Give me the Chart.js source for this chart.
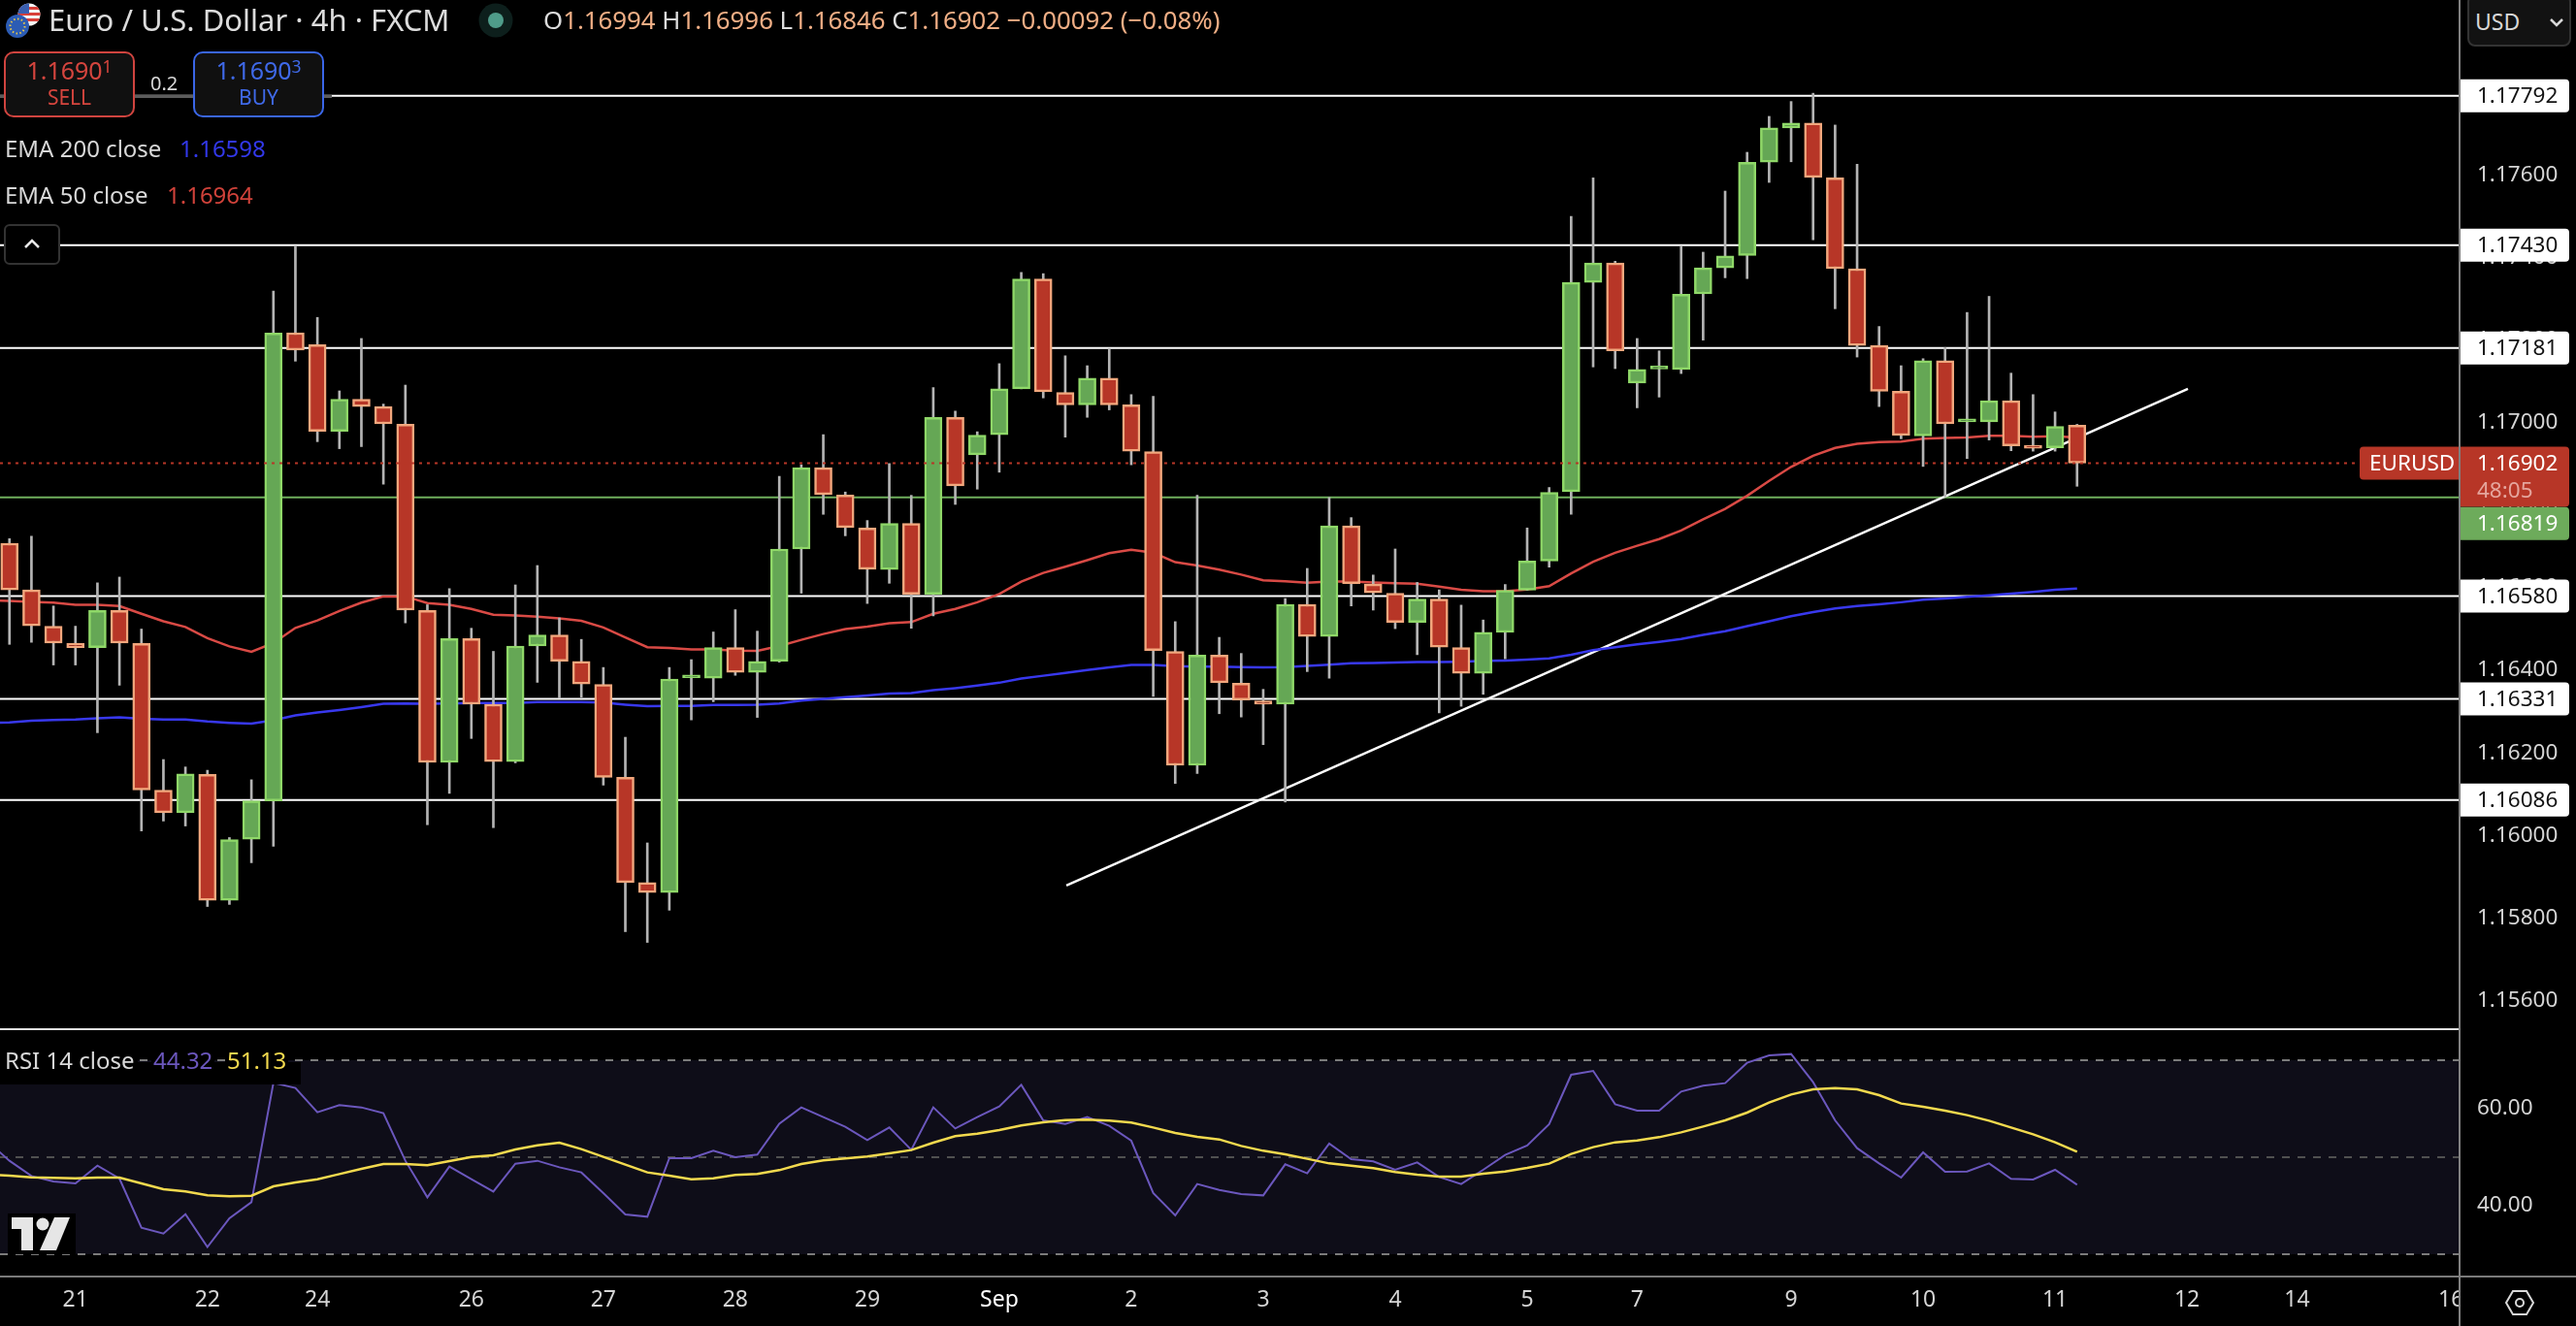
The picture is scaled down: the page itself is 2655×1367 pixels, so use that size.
<!DOCTYPE html>
<html>
<head>
<meta charset="utf-8">
<title>EURUSD 4h</title>
<script src="https://cdn.jsdelivr.net/npm/chart.js@4/dist/chart.umd.min.js"></script>
<style>
    html, body { margin: 0; padding: 0; background: #000; width: 2655px; height: 1367px; overflow: hidden; font-family: "Noto Sans", sans-serif; }
    canvas { position: absolute; left: 0; }
    #graficoPreco { top: 0; }
    #graficoRsi { top: 1061px; }
    .txt { position: absolute; white-space: nowrap; line-height: 1; color: #d8d8d8; }
    .box { position: absolute; box-sizing: border-box; }
    sup { font-size: 70%; line-height: 0; vertical-align: 0.4em; }
    .peach { color: #f0ae85; }
</style>
</head>
<body>
<canvas id="graficoPreco" width="2655" height="1061"></canvas>
<canvas id="graficoRsi" width="2655" height="306"></canvas>

<!-- separadores -->
<div class="box" style="left:0;top:1060px;width:2535px;height:2px;background:#e0e0e0"></div>
<div class="box" style="left:0;top:1315px;width:2655px;height:2px;background:#7a7a7a"></div>
<div class="box" style="left:2536px;top:1317px;width:119px;height:50px;background:#000"></div>
<div class="box" style="left:2534px;top:0;width:2px;height:1367px;background:#808080"></div>

<!-- titulo -->
<svg class="box" style="left:4px;top:2px" width="40" height="40" viewBox="0 0 40 40">
    <clipPath id="us"><circle cx="26" cy="13" r="11.5"/></clipPath>
    <g clip-path="url(#us)">
        <rect x="14" y="1" width="24" height="24" fill="#f4f4f4"/>
        <rect x="14" y="5" width="24" height="3" fill="#d8403a"/>
        <rect x="14" y="11" width="24" height="3" fill="#d8403a"/>
        <rect x="14" y="17" width="24" height="3" fill="#d8403a"/>
        <rect x="14" y="1" width="12" height="11" fill="#3a5fb0"/>
    </g>
    <circle cx="14" cy="25" r="12" fill="#2c5cb4"/>
    <circle cx="14" cy="25" r="7.5" fill="none" stroke="#e8c84a" stroke-width="2" stroke-dasharray="1.5 2.4"/>
</svg>
<div class="txt" style="left:50px;top:5px;font-size:31px;color:#dcdcdc">Euro / U.S. Dollar · 4h · FXCM</div>
<svg class="box" style="left:493px;top:3px" width="36" height="36"><circle cx="18" cy="18" r="17.5" fill="#0d1f1c"/><circle cx="18" cy="18" r="8" fill="#4f9c8a"/></svg>
<div class="txt" style="left:560px;top:8px;font-size:25.8px;color:#dcdcdc">O<span class="peach">1.16994</span> H<span class="peach">1.16996</span> L<span class="peach">1.16846</span> C<span class="peach">1.16902</span> <span class="peach">−0.00092 (−0.08%)</span></div>

<!-- sell / buy -->
<div class="box" style="left:0;top:98px;width:342px;height:3px;background:#5c5c5c"></div>
<div class="box" style="left:4px;top:53px;width:135px;height:68px;background:#101010;border:2px solid #d0443f;border-radius:10px"></div>
<div class="txt" style="left:4px;top:60px;width:135px;text-align:center;font-size:25px;color:#d5453e">1.1690<sup>1</sup></div>
<div class="txt" style="left:4px;top:90px;width:135px;text-align:center;font-size:21px;color:#d5453e">SELL</div>
<div class="txt" style="left:155px;top:76px;font-size:20px;color:#d8d8d8">0.2</div>
<div class="box" style="left:199px;top:53px;width:135px;height:68px;background:#101010;border:2px solid #3a66e8;border-radius:10px"></div>
<div class="txt" style="left:199px;top:60px;width:135px;text-align:center;font-size:25px;color:#3f69e8">1.1690<sup>3</sup></div>
<div class="txt" style="left:199px;top:90px;width:135px;text-align:center;font-size:21px;color:#3f69e8">BUY</div>

<!-- indicadores -->
<div class="txt" style="left:5px;top:141px;font-size:24px">EMA 200 close</div>
<div class="txt" style="left:185px;top:141px;font-size:24px;color:#3238ea">1.16598</div>
<div class="txt" style="left:5px;top:189px;font-size:24px">EMA 50 close</div>
<div class="txt" style="left:172px;top:189px;font-size:24px;color:#d0423a">1.16964</div>
<div class="box" style="left:4px;top:231px;width:58px;height:42px;background:#000;border:2px solid #333;border-radius:6px"></div>
<svg class="box" style="left:24px;top:245px" width="18" height="12"><path d="M2 10 L9 3 L16 10" fill="none" stroke="#e8e8e8" stroke-width="2.5"/></svg>

<!-- moeda -->
<div class="box" style="left:2543px;top:-6px;width:107px;height:54px;background:#121212;border:2px solid #333;border-radius:8px"></div>
<div class="txt" style="left:2551px;top:11px;font-size:23px">USD</div>
<svg class="box" style="left:2627px;top:18px" width="16" height="10"><path d="M2 2 L8 8 L14 2" fill="none" stroke="#d8d8d8" stroke-width="2.5"/></svg>

<!-- rsi -->
<div class="box" style="left:0;top:1095px;width:310px;height:23px;background:#000"></div>
<div class="txt" style="left:0;top:1079px;padding:2px 4px 2px 5px;font-size:24px;background:#000">RSI 14 close</div>
<div class="txt" style="left:156px;top:1079px;padding:2px;font-size:24px;color:#6b57bd;background:#000">44.32</div>
<div class="txt" style="left:232px;top:1079px;padding:2px;font-size:24px;color:#f2d94e;background:#000">51.13</div>

<!-- marca -->
<svg class="box" style="left:8px;top:1251px" width="70" height="42" viewBox="0 0 70 42">
    <rect width="70" height="42" fill="#000"/>
    <path d="M4 4 H26 V38 H14 V16 H4 Z" fill="#e6e6e6"/>
    <circle cx="36" cy="11" r="6.5" fill="#e6e6e6"/>
    <path d="M48 4 H64 L50 38 H33 Z" fill="#e6e6e6"/>
</svg>

<!-- engrenagem -->
<svg class="box" style="left:2581px;top:1329px" width="32" height="28" viewBox="0 0 32 28">
    <path d="M9 2 H23 L30 14 L23 26 H9 L2 14 Z" fill="none" stroke="#d8d8d8" stroke-width="2"/>
    <circle cx="16" cy="14" r="4" fill="none" stroke="#d8d8d8" stroke-width="2"/>
</svg>

<script>
// ==========================================
// DADOS
// ==========================================
const aberturas = [1.16708,1.16595,1.16507,1.16465,1.16455,1.16545,1.16465,1.16110,1.16055,1.16148,1.15843,1.15991,1.16084,1.17218,1.17189,1.16979,1.17057,1.17039,1.16996,1.16545,1.16177,1.16477,1.16318,1.16179,1.16459,1.16486,1.16422,1.16366,1.16141,1.15886,1.15862,1.16382,1.16381,1.16455,1.16395,1.16422,1.16694,1.16891,1.16825,1.16745,1.16644,1.16756,1.16584,1.17013,1.16922,1.16971,1.17082,1.17348,1.17073,1.17043,1.17108,1.17043,1.16930,1.16446,1.16170,1.16437,1.16369,1.16326,1.16318,1.16560,1.16482,1.16750,1.16609,1.16587,1.16516,1.16573,1.16455,1.16393,1.16492,1.16594,1.16665,1.16833,1.17340,1.17387,1.17096,1.17130,1.17129,1.17312,1.17375,1.17405,1.17631,1.17714,1.17726,1.17593,1.17373,1.17187,1.17076,1.16968,1.17150,1.17002,1.17002,1.17053,1.16943,1.16939,1.16994];
const maximas = [1.16719,1.16725,1.16556,1.16507,1.16612,1.16626,1.16500,1.16184,1.16166,1.16158,1.15995,1.16135,1.17319,1.17428,1.17255,1.17077,1.17204,1.17045,1.17091,1.16559,1.16598,1.16502,1.16446,1.16607,1.16654,1.16527,1.16475,1.16407,1.16238,1.15982,1.16407,1.16426,1.16493,1.16547,1.16495,1.16870,1.16898,1.16971,1.16832,1.16763,1.16901,1.16824,1.17085,1.17028,1.16978,1.17143,1.17364,1.17361,1.17162,1.17138,1.17180,1.17068,1.17064,1.16518,1.16824,1.16480,1.16441,1.16354,1.16574,1.16647,1.16819,1.16770,1.16631,1.16694,1.16613,1.16595,1.16558,1.16522,1.16608,1.16745,1.16843,1.17500,1.17593,1.17391,1.17204,1.17174,1.17427,1.17413,1.17561,1.17655,1.17742,1.17778,1.17798,1.17721,1.17626,1.17233,1.17138,1.17155,1.17182,1.17267,1.17306,1.17120,1.17068,1.17026,1.16996];
const minimas = [1.16463,1.16468,1.16413,1.16413,1.16249,1.16364,1.16011,1.16035,1.16023,1.15828,1.15833,1.15934,1.15974,1.17149,1.16954,1.16937,1.16942,1.16851,1.16515,1.16026,1.16102,1.16235,1.16019,1.16176,1.16371,1.16333,1.16335,1.16122,1.15767,1.15741,1.15819,1.16280,1.16324,1.16388,1.16286,1.16420,1.16587,1.16778,1.16726,1.16562,1.16611,1.16502,1.16532,1.16802,1.16839,1.16880,1.17082,1.17060,1.16965,1.17013,1.17031,1.16898,1.16337,1.16126,1.16150,1.16295,1.16287,1.16220,1.16081,1.16397,1.16381,1.16556,1.16546,1.16501,1.16438,1.16297,1.16313,1.16342,1.16428,1.16594,1.16650,1.16778,1.17135,1.17131,1.17036,1.17062,1.17119,1.17200,1.17351,1.17349,1.17582,1.17632,1.17443,1.17276,1.17159,1.17039,1.16961,1.16894,1.16820,1.16913,1.16958,1.16932,1.16931,1.16931,1.16846];
const fechamentos = [1.16595,1.16508,1.16466,1.16455,1.16545,1.16466,1.16110,1.16055,1.16149,1.15843,1.15990,1.16084,1.17217,1.17176,1.16979,1.17057,1.17039,1.16997,1.16546,1.16177,1.16477,1.16318,1.16179,1.16459,1.16486,1.16422,1.16367,1.16141,1.15886,1.15862,1.16379,1.16383,1.16455,1.16395,1.16422,1.16694,1.16891,1.16826,1.16746,1.16645,1.16756,1.16584,1.17013,1.16847,1.16970,1.17082,1.17348,1.17075,1.17043,1.17108,1.17043,1.16931,1.16448,1.16170,1.16437,1.16370,1.16328,1.16318,1.16560,1.16482,1.16750,1.16610,1.16588,1.16516,1.16573,1.16456,1.16393,1.16492,1.16594,1.16665,1.16831,1.17340,1.17387,1.17174,1.17129,1.17131,1.17311,1.17375,1.17404,1.17631,1.17714,1.17726,1.17594,1.17373,1.17187,1.17076,1.16969,1.17150,1.16997,1.17003,1.17053,1.16944,1.16938,1.16991,1.16902];

// as séries abaixo começam um candle antes do primeiro, fora da área visível
const ema50 = [1.16570,1.16568,1.16566,1.16564,1.16559,1.16559,1.16556,1.16537,1.16519,1.16505,1.16478,1.16458,1.16445,1.16466,1.16503,1.16521,1.16544,1.16564,1.16579,1.16579,1.16563,1.16559,1.16549,1.16535,1.16533,1.16530,1.16526,1.16520,1.16504,1.16480,1.16456,1.16454,1.16451,1.16451,1.16448,1.16447,1.16459,1.16474,1.16488,1.16500,1.16506,1.16514,1.16517,1.16537,1.16549,1.16565,1.16585,1.16615,1.16636,1.16651,1.16667,1.16684,1.16692,1.16685,1.16662,1.16654,1.16644,1.16632,1.16618,1.16616,1.16612,1.16615,1.16615,1.16613,1.16611,1.16610,1.16603,1.16595,1.16592,1.16592,1.16596,1.16604,1.16635,1.16663,1.16685,1.16702,1.16718,1.16739,1.16766,1.16791,1.16823,1.16859,1.16893,1.16920,1.16939,1.16949,1.16953,1.16954,1.16961,1.16963,1.16964,1.16968,1.16968,1.16966,1.16967,1.16964];
const ema200 = [1.16272,1.16274,1.16278,1.16280,1.16281,1.16284,1.16286,1.16283,1.16281,1.16281,1.16276,1.16273,1.16271,1.16279,1.16291,1.16298,1.16304,1.16311,1.16319,1.16320,1.16319,1.16320,1.16321,1.16321,1.16321,1.16323,1.16323,1.16323,1.16322,1.16317,1.16313,1.16314,1.16314,1.16316,1.16316,1.16317,1.16320,1.16327,1.16331,1.16335,1.16339,1.16344,1.16345,1.16352,1.16357,1.16363,1.16370,1.16380,1.16387,1.16394,1.16401,1.16407,1.16413,1.16413,1.16410,1.16409,1.16409,1.16408,1.16407,1.16408,1.16411,1.16414,1.16417,1.16418,1.16419,1.16420,1.16420,1.16421,1.16423,1.16424,1.16426,1.16429,1.16438,1.16449,1.16456,1.16463,1.16469,1.16476,1.16486,1.16495,1.16507,1.16519,1.16531,1.16541,1.16550,1.16556,1.16560,1.16565,1.16571,1.16574,1.16578,1.16582,1.16586,1.16590,1.16595,1.16598];

const rsi = [53.30,49.27,46.13,45.00,44.60,48.27,45.60,35.47,34.27,38.27,31.47,37.40,40.73,65.33,64.27,59.27,60.73,60.27,59.07,49.27,41.73,48.07,45.47,42.93,48.67,49.27,47.93,46.87,42.60,38.20,37.73,49.80,49.80,51.33,50.00,50.53,56.93,60.27,58.27,56.27,53.53,56.13,51.53,60.27,55.93,58.27,60.47,64.93,57.60,56.87,58.27,56.47,53.40,42.60,38.00,44.47,43.27,42.40,42.13,48.53,46.67,52.80,49.60,49.13,47.40,48.93,45.93,44.47,47.40,50.47,52.40,56.80,67.00,67.80,60.93,59.60,59.60,63.53,64.73,65.27,69.47,71.00,71.27,65.47,57.60,51.87,48.73,45.80,51.00,47.00,47.07,48.73,45.53,45.40,47.40,44.32];
const rsiMedia = [46.40,46.20,45.87,45.73,45.67,45.80,45.80,44.60,43.40,42.93,42.13,41.93,42.07,44.00,44.80,45.47,46.53,47.60,48.60,48.60,48.33,49.20,50.07,50.40,51.60,52.47,53.00,51.67,50.07,48.47,46.87,46.20,45.47,45.67,46.33,46.53,47.33,48.60,49.33,49.73,50.13,50.80,51.47,53.00,54.33,54.87,55.60,56.53,57.20,57.67,57.73,57.53,57.13,56.13,55.00,54.20,53.67,52.33,51.33,50.60,49.67,48.73,48.27,47.73,46.93,46.40,46.00,46.00,46.60,47.07,47.80,48.67,50.67,52.07,53.07,53.47,54.13,55.13,56.33,57.60,59.20,61.27,62.93,64.00,64.27,64.00,62.80,61.07,60.40,59.60,58.67,57.53,56.13,54.73,53.07,51.13];

const niveisBrancos = [1.17792, 1.17430, 1.17181, 1.16580, 1.16331, 1.16086];
const nivelVerde = 1.16819;
const precoAtual = 1.16902;
const tendenciaX = [48.05, 99.04];
const tendenciaY = [1.15879, 1.17082];

const ticksPreco = [1.17600, 1.17400, 1.17200, 1.17000, 1.16800, 1.16600, 1.16400, 1.16200, 1.16000, 1.15800, 1.15600];
const ticksRsi = [60, 40];
const niveisRsi = [70, 50, 30];
const posicoesTempo = [3, 9, 14, 21, 27, 33, 39, 45, 51, 57, 63, 69, 74, 81, 87, 93, 99, 104, 111];
const rotulosTempo = ["21", "22", "24", "26", "27", "28", "29", "Sep", "2", "3", "4", "5", "7", "9", "10", "11", "12", "14", "16"];

// ==========================================
// CONFIGURAÇÃO
// ==========================================
const X_MIN = -0.43;
const X_MAX = 111.39;
const LARGURA_EIXO = 120;
const FONTE = '"Noto Sans", sans-serif';
const COR_TEXTO = "#d4d4d4";

const VERMELHO = "#b73627";
const BORDA_VERMELHO = "#f2a77d";
const VERDE = "#65a755";
const BORDA_VERDE = "#8fd868";

Chart.defaults.font.family = FONTE;
Chart.defaults.animation = false;
Chart.defaults.plugins.legend.display = false;
Chart.defaults.plugins.tooltip.enabled = false;

function linhaHorizontal(valor, cor, largura, tracejado, ordem, yAxisID) {
    return {
        type: "line",
        data: [{ x: X_MIN, y: valor }, { x: X_MAX, y: valor }],
        borderColor: cor,
        borderWidth: largura,
        borderDash: tracejado,
        pointRadius: 0,
        order: ordem,
        yAxisID: yAxisID
    };
}

function linhaSerie(valores, cor, largura, ordem) {
    return {
        type: "line",
        data: valores.map(function (v, i) { return { x: i - 1, y: v }; }),
        borderColor: cor,
        borderWidth: largura,
        pointRadius: 0,
        tension: 0,
        order: ordem
    };
}

function semRecuo(scale) {
    scale.paddingTop = 0;
    scale.paddingBottom = 0;
    scale.paddingLeft = 0;
    scale.paddingRight = 0;
}

function eixoX(visivel) {
    return {
        type: "linear",
        min: X_MIN,
        max: X_MAX,
        offset: false,
        display: visivel,
        grid: { display: false, drawTicks: false },
        border: { display: false },
        afterBuildTicks: function (scale) {
            scale.ticks = posicoesTempo.map(function (v) { return { value: v }; });
        },
        afterFit: function (scale) {
            semRecuo(scale);
            if (visivel) scale.height = 51;
        },
        ticks: {
            color: function (c) { return rotulosTempo[c.index] === "Sep" ? "#ffffff" : COR_TEXTO; },
            font: { size: 23 },
            autoSkip: false,
            maxRotation: 0,
            padding: 11,
            callback: function (v) { return rotulosTempo[posicoesTempo.indexOf(v)]; }
        }
    };
}

function eixoY(min, max, marcas, casas) {
    return {
        type: "linear",
        position: "right",
        min: min,
        max: max,
        beginAtZero: false,
        grid: { display: false, drawTicks: false },
        border: { display: false },
        afterBuildTicks: function (scale) {
            scale.ticks = marcas.map(function (v) { return { value: v }; });
        },
        afterFit: function (scale) {
            semRecuo(scale);
            scale.width = LARGURA_EIXO;
        },
        ticks: {
            color: COR_TEXTO,
            font: { size: 22.5 },
            padding: 18,
            callback: function (v) { return v.toFixed(casas); }
        }
    };
}

// ==========================================
// ETIQUETAS DO EIXO DE PREÇO
// ==========================================
const etiquetasPreco = {
    id: "etiquetasPreco",
    afterDraw: function (chart) {
        const ctx = chart.ctx;
        const y = chart.scales.y;
        const esq = 2536, larg = 112, alt = 34, txt = 2553;

        function caixa(x, topo, w, h, cor, raios) {
            ctx.fillStyle = cor;
            ctx.beginPath();
            ctx.roundRect(x, topo, w, h, raios);
            ctx.fill();
        }

        ctx.save();
        ctx.textBaseline = "middle";
        ctx.font = "22.5px " + FONTE;
        ctx.textAlign = "left";

        niveisBrancos.forEach(function (nivel) {
            const py = y.getPixelForValue(nivel);
            caixa(esq, py - alt / 2, larg, alt, "#ffffff", [0, 4, 4, 0]);
            ctx.fillStyle = "#131313";
            ctx.fillText(nivel.toFixed(5), txt, py + 1);
        });

        const pa = y.getPixelForValue(precoAtual);
        caixa(2432, pa - 17, 102, 34, VERMELHO, [4, 0, 0, 4]);
        ctx.fillStyle = "#ffffff";
        ctx.fillText("EURUSD", 2442, pa + 1);
        caixa(esq, pa - 17, larg, 62, VERMELHO, [0, 4, 4, 0]);
        ctx.fillStyle = "#ffffff";
        ctx.fillText(precoAtual.toFixed(5), txt, pa + 1);
        ctx.fillStyle = "#e5a59d";
        ctx.fillText("48:05", txt, pa + 29);

        const pv = y.getPixelForValue(nivelVerde);
        caixa(esq, pv + 10, larg, 34, "#6dab5b", [0, 4, 4, 0]);
        ctx.fillStyle = "#ffffff";
        ctx.fillText(nivelVerde.toFixed(5), txt, pv + 28);
        ctx.restore();
    }
};

// ==========================================
// FAIXA DO RSI
// ==========================================
const faixaRsi = {
    id: "faixaRsi",
    beforeDatasetsDraw: function (chart) {
        const y = chart.scales.y;
        const topo = y.getPixelForValue(niveisRsi[0]);
        const base = y.getPixelForValue(niveisRsi[2]);
        chart.ctx.save();
        chart.ctx.fillStyle = "#0e0d18";
        chart.ctx.fillRect(0, topo, chart.chartArea.right, base - topo);
        chart.ctx.restore();
    }
};

// ==========================================
// GRÁFICO DE PREÇO
// ==========================================
function criarGraficoPreco() {
    const ctx = document.getElementById("graficoPreco");

    const altas = fechamentos.map(function (c, i) { return c >= aberturas[i]; });

    const datasets = [
        {
            type: "line",
            data: [{ x: X_MIN, y: precoAtual }, { x: 107, y: precoAtual }],
            borderColor: VERMELHO,
            borderWidth: 2,
            borderDash: [3, 5],
            pointRadius: 0,
            order: 0
        },
        {
            data: aberturas.map(function (o, i) { return { x: i, y: [o, fechamentos[i]] }; }),
            backgroundColor: altas.map(function (a) { return a ? VERDE : VERMELHO; }),
            borderColor: altas.map(function (a) { return a ? BORDA_VERDE : BORDA_VERMELHO; }),
            borderWidth: 2.5,
            borderSkipped: false,
            barThickness: 18,
            minBarLength: 3,
            grouped: false,
            order: 1
        },
        {
            data: minimas.map(function (l, i) { return { x: i, y: [l, maximas[i]] }; }),
            backgroundColor: "#b4b4b4",
            barThickness: 2,
            grouped: false,
            order: 2
        },
        linhaSerie(ema50, "#d94a45", 2.5, 3),
        linhaSerie(ema200, "#3838ee", 2.5, 4),
        {
            type: "line",
            data: tendenciaX.map(function (x, i) { return { x: x, y: tendenciaY[i] }; }),
            borderColor: "#ffffff",
            borderWidth: 2.5,
            pointRadius: 0,
            order: 5
        },
        linhaHorizontal(nivelVerde, "#6fae5c", 2, [], 6, "y")
    ];

    niveisBrancos.forEach(function (nivel) {
        datasets.push(linhaHorizontal(nivel, "#ffffff", 2, [], 7, "y"));
    });

    new Chart(ctx, {
        type: "bar",
        data: { datasets: datasets },
        options: {
            responsive: false,
            devicePixelRatio: 1,
            layout: { padding: 0 },
            scales: {
                x: eixoX(false),
                y: eixoY(1.155308, 1.180239, ticksPreco, 5)
            }
        },
        plugins: [etiquetasPreco]
    });
}

// ==========================================
// GRÁFICO RSI
// ==========================================
function criarGraficoRsi() {
    const ctx = document.getElementById("graficoRsi");

    const cores = ["#7b7b7b", "#505050", "#7b7b7b"];
    const datasets = [
        linhaSerie(rsiMedia, "#f2d94e", 2.5, 0),
        linhaSerie(rsi, "#6b57bd", 2, 1)
    ];

    niveisRsi.forEach(function (nivel, i) {
        datasets.push(linhaHorizontal(nivel, cores[i], 2, [8, 8], 2, "y"));
    });

    new Chart(ctx, {
        type: "line",
        data: { datasets: datasets },
        options: {
            responsive: false,
            devicePixelRatio: 1,
            layout: { padding: 0 },
            scales: {
                x: eixoX(true),
                y: eixoY(25.4, 76.4, ticksRsi, 2)
            }
        },
        plugins: [faixaRsi]
    });
}

document.addEventListener("DOMContentLoaded", function () {
    criarGraficoPreco();
    criarGraficoRsi();
});
</script>
</body>
</html>
